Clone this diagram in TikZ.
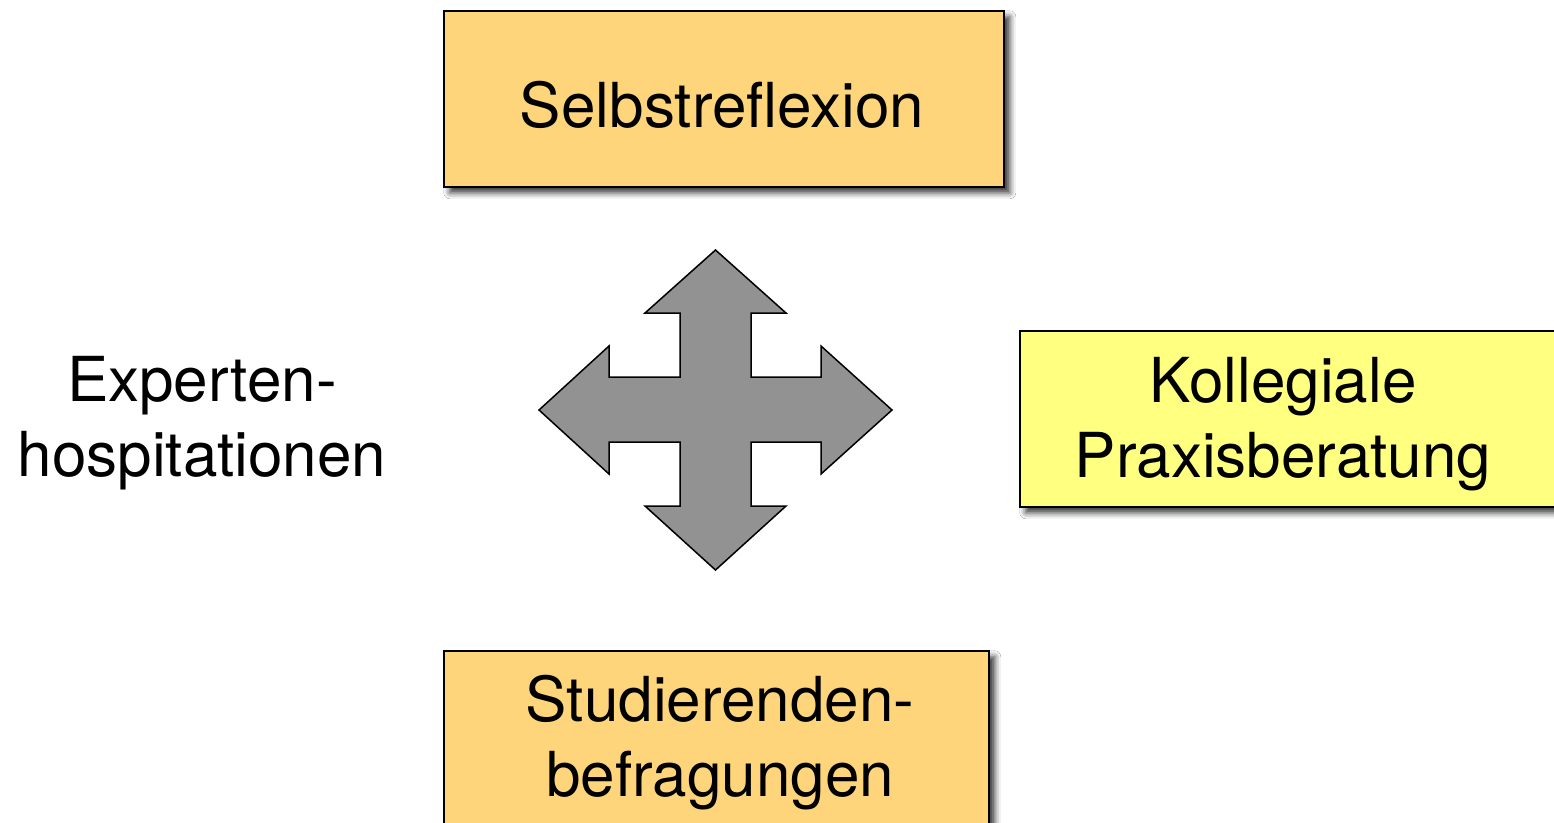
\documentclass[tikz,border=0pt]{standalone}
\usepackage{fontspec}
\setmainfont{TeX Gyre Heros}
\usetikzlibrary{shadows.blur}
\definecolor{boxorange}{RGB}{254,213,122}
\definecolor{boxyellow}{RGB}{255,255,128}
\definecolor{arrowgray}{RGB}{146,146,146}
\tikzset{
  card/.style={draw=black, line width=1.5pt, inner sep=0pt,
    blur shadow={shadow xshift=6pt, shadow yshift=-6pt, shadow blur radius=6pt, shadow opacity=80}},
  bigtext/.style={font=\fontsize{62}{75}\selectfont, align=center, inner sep=0pt, text=black},
}
\begin{document}
\begin{tikzpicture}[x=1pt,y=-1pt]
\useasboundingbox (0,0) rectangle (1554,822);
\clip (0,0) rectangle (1554,822);
\fill[white] (0,0) rectangle (1554,822);
% boxes
\node[card, fill=boxorange, anchor=north west, minimum width=560pt, minimum height=176pt] (sr) at (443,10) {};
\node[card, fill=boxyellow, anchor=north west, minimum width=560pt, minimum height=176pt] (kp) at (1019,330) {};
\node[card, fill=boxorange, anchor=north west, minimum width=545pt, minimum height=200pt] (sb) at (443,650) {};
% texts
\node[bigtext] (srt) at (722,105) {Selbstreflexion};
\node[bigtext] (kpt) at (1283,424) {Kollegiale\\Praxisberatung};
\node[bigtext] (sbt) at (720,743) {Studierenden-\\befragungen};
\node[bigtext] (eh) at (202,423) {Experten-\\hospitationen};
% four-way arrow
\draw[line width=1.5pt, fill=arrowgray, line join=miter]
  (715.5,250) -- (786,313) -- (751,313) -- (751,377) -- (821,377) -- (821,346)
  -- (892,410) -- (821,474) -- (821,442) -- (751,442) -- (751,506) -- (786,506)
  -- (715.5,570) -- (645,506) -- (680,506) -- (680,442) -- (609,442) -- (609,474)
  -- (539,410) -- (609,346) -- (609,377) -- (680,377) -- (680,313) -- (645,313) -- cycle;
\end{tikzpicture}
\end{document}
